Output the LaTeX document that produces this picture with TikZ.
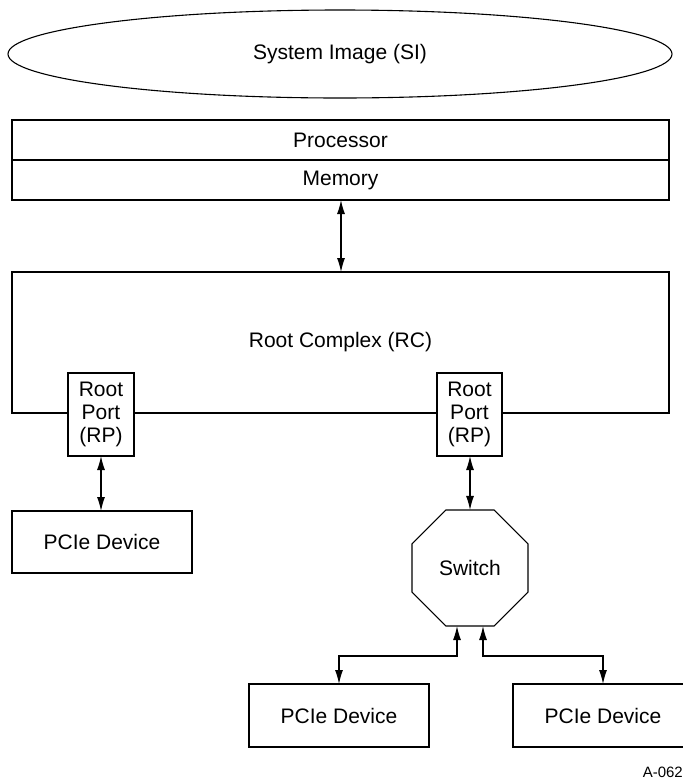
\documentclass[tikz,border=0pt]{standalone}
\usepackage{fontspec}
\setmainfont{Liberation Sans}
\usetikzlibrary{shapes.geometric,arrows.meta,calc}
\begin{document}
\begin{tikzpicture}[x=1pt,y=-1pt,
  every node/.style={font=\fontsize{21}{23}\selectfont},
  box/.style={draw,line width=1.1pt,rectangle,inner sep=0pt,outer sep=0pt,fill=white},
  biarrow/.style={line width=1.1pt,{Latex[length=14pt,width=8pt]}-{Latex[length=14pt,width=8pt]}}
]
\useasboundingbox (0,0) rectangle (683,780);
\clip (0,0) rectangle (683,780);

\node[draw,line width=1.1pt,ellipse,minimum width=664pt,minimum height=88pt,inner sep=0pt] (si) at (340,54) {System Image (SI)};

\node[box,minimum width=657pt,minimum height=40pt] (proc) at (340.5,140) {Processor};
\node[box,minimum width=657pt,minimum height=40pt] (mem) at (340.5,180) {Memory};

\node[box,minimum width=657pt,minimum height=141pt] (rc) at (340.5,342.5) {Root Complex (RC)};

\node[box,minimum width=66pt,minimum height=83pt,align=center] (rp1) at (101,414.5) {Root\\Port\\(RP)};
\node[box,minimum width=65pt,minimum height=83pt,align=center] (rp2) at (469.5,414.5) {Root\\Port\\(RP)};

\node[box,minimum width=180pt,minimum height=62pt] (dev1) at (102,542) {PCIe Device};

\node[draw,line width=1.1pt,regular polygon,regular polygon sides=8,minimum size=125.6pt,inner sep=0pt,outer sep=0pt] (sw) at (470,568) {Switch};

\node[box,minimum width=180pt,minimum height=63pt] (dev2) at (339,715.5) {PCIe Device};
\node[box,minimum width=180pt,minimum height=63pt] (dev3) at (603,715.5) {PCIe Device};

\node[anchor=east,font=\fontsize{15}{17}\selectfont,inner sep=0pt] (lbl) at (683,772) {A-062};

\draw[biarrow] (mem.south -| 341,0) -- (rc.north -| 341,0);
\draw[biarrow] (rp1.south) -- (rp1.south |- dev1.north);
\draw[biarrow] (rp2.south -| sw.north) -- (sw.north);
\draw[biarrow] ($(sw.south)+(-13,0)$) -- ++(0,30) -| (dev2.north);
\draw[biarrow] ($(sw.south)+(13,0)$) -- ++(0,30) -| (dev3.north);
\end{tikzpicture}
\end{document}
